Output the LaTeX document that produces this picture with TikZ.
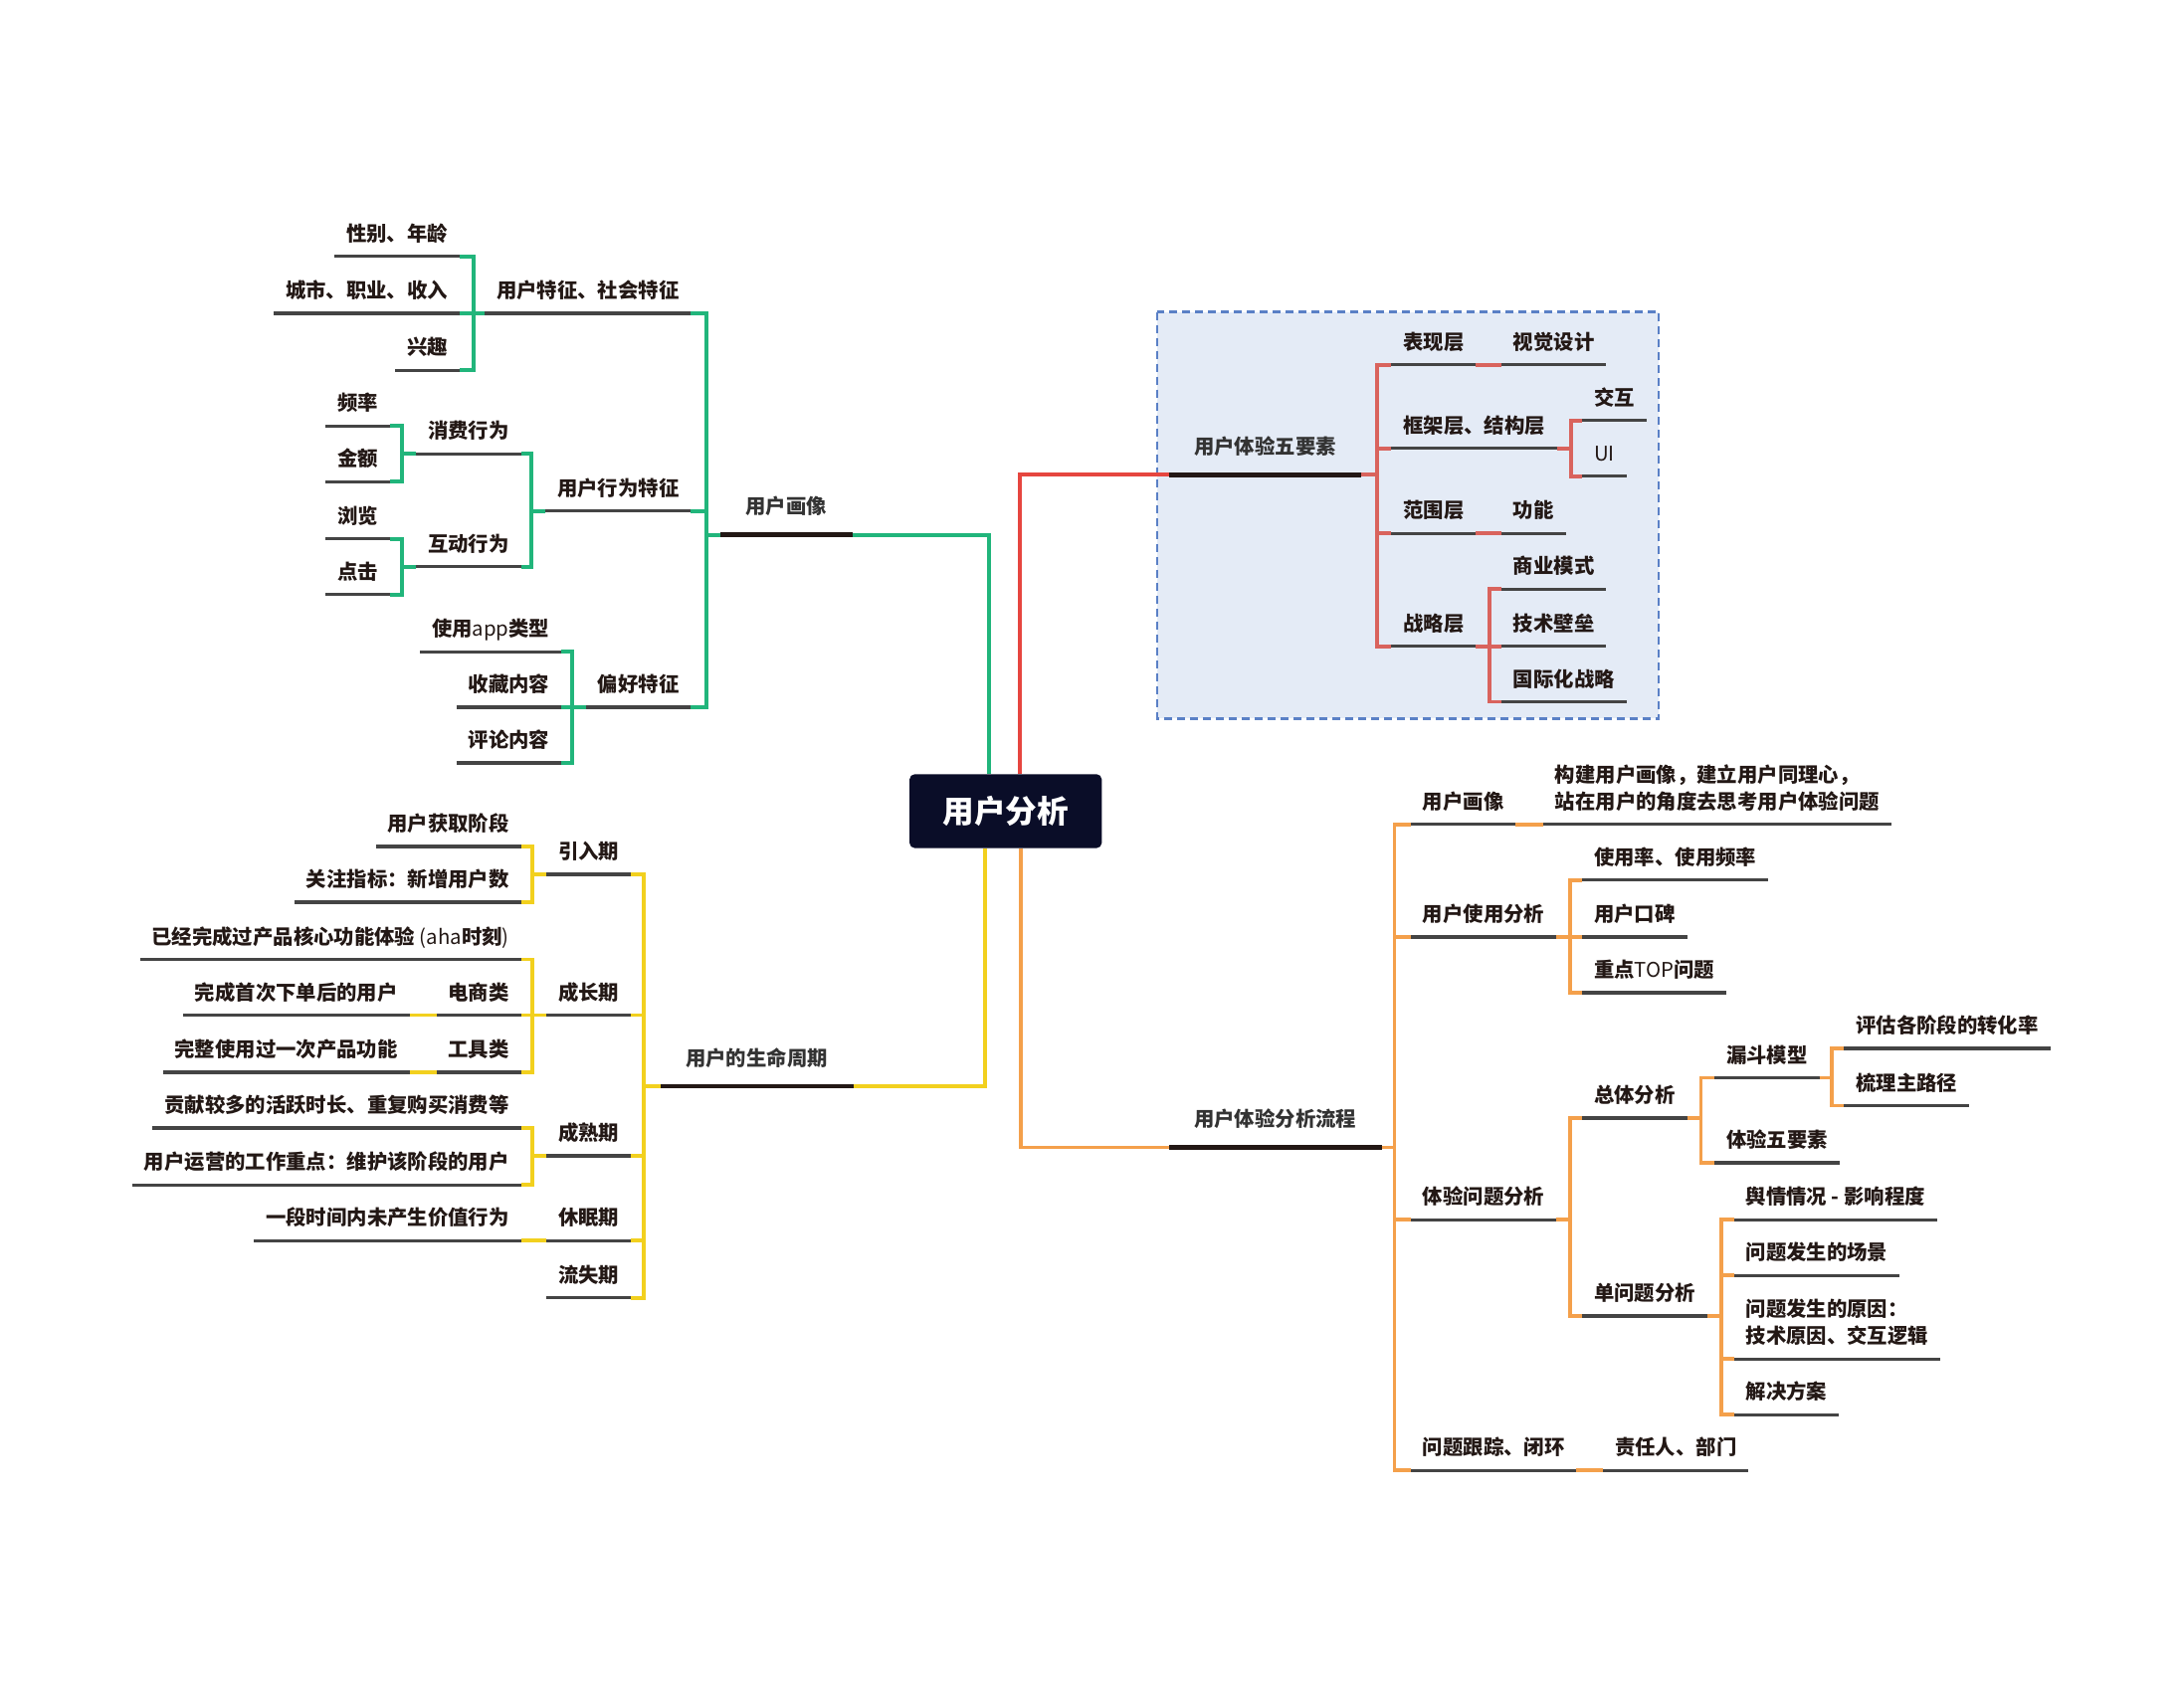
\documentclass[tikz,border=0pt]{standalone}
\usepackage{fontspec}
\setmainfont{Noto Sans CJK SC}
\usetikzlibrary{calc}
\definecolor{cG}{HTML}{21B57B}
\definecolor{cY}{HTML}{F2D01E}
\definecolor{cO}{HTML}{F4A04B}
\definecolor{cR}{HTML}{E6463F}
\definecolor{cRl}{HTML}{D9635D}
\definecolor{ulc}{HTML}{444444}
\definecolor{mlc}{HTML}{231815}
\definecolor{txt}{HTML}{231815}
\definecolor{mtxt}{HTML}{333333}
\definecolor{rootc}{HTML}{0A0D28}
\definecolor{boxfill}{HTML}{E4EBF6}
\definecolor{boxdraw}{HTML}{5A80C6}
\tikzset{
  topic/.style={inner xsep=0.112cm, inner ysep=0.147cm, text depth=0pt,
    font=\fontsize{5.8}{7.7}\selectfont\bfseries, text=txt},
  mtopic/.style={inner xsep=0.25cm, inner ysep=0.2cm, text depth=0pt,
    font=\fontsize{5.8}{7.7}\selectfont\bfseries, text=mtxt},
  uline/.style={line width=0.95pt, draw=ulc},
  mline/.style={line width=1.35pt, draw=mlc},
  con/.style={line width=1.1pt},
  conG/.style={con, draw=cG},
  conY/.style={con, draw=cY},
  conO/.style={con, draw=cO},
  conR/.style={con, draw=cR},
  conRl/.style={con, draw=cRl},
  rootbox/.style={fill=rootc, rounded corners=0.05cm, minimum width=1.932cm,
    minimum height=0.742cm, inner sep=0pt, text=white,
    font=\fontsize{9}{11}\selectfont\bfseries},
  dashbox/.style={fill=boxfill, draw=boxdraw, line width=0.65pt,
    dash pattern=on 0.08cm off 0.05cm}
}
\newcommand\nodeL[4]{\node[topic,anchor=south east] (#1) at (#2,#3) {#4};
  \draw[uline] (#1.south west) -- (#1.south east);}
\newcommand\nodeR[4]{\node[topic,anchor=south west] (#1) at (#2,#3) {#4};
  \draw[uline] (#1.south west) -- (#1.south east);}
\newcommand\nodeM[4]{\node[mtopic,anchor=south west] (#1) at (#2,#3) {#4};
  \draw[mline] (#1.south west) -- (#1.south east);}
\newcommand\lat[1]{{\mdseries #1}}
\begin{document}
\begin{tikzpicture}[x=0.014cm,y=-0.014cm]
\useasboundingbox (0,0) rectangle (1568,1214);
% dashed background box
\draw[dashbox] (831,224) rectangle (1191,516);

% root
\node[rootbox] (root) at (722,582.5) {用户分析};

% ===== green branch =====
\nodeM{g}{517}{384}{用户画像}
\nodeL{g1}{496}{225}{用户特征、社会特征}
\nodeL{g11}{330}{184}{性别、年龄}
\nodeL{g12}{330}{225}{城市、职业、收入}
\nodeL{g13}{330}{266}{兴趣}
\nodeL{g2}{496}{367}{用户行为特征}
\nodeL{g21}{374}{326}{消费行为}
\nodeL{g211}{280}{306}{频率}
\nodeL{g212}{280}{346}{金额}
\nodeL{g22}{374}{407}{互动行为}
\nodeL{g221}{280}{387}{浏览}
\nodeL{g222}{280}{427}{点击}
\nodeL{g3}{496}{508}{偏好特征}
\nodeL{g31}{403}{468}{使用\lat{app}类型}
\nodeL{g32}{403}{508}{收藏内容}
\nodeL{g33}{403}{548}{评论内容}
\draw[conG] (g.south east) -| ($(root.north)+(-12,0)$);
\foreach \c in {g1,g2,g3} \draw[conG] (g.south west) -- ++(-10,0) |- (\c.south east);
\foreach \c in {g11,g12,g13} \draw[conG] (g1.south west) -- ++(-8,0) |- (\c.south east);
\foreach \c in {g21,g22} \draw[conG] (g2.south west) -- ++(-10,0) |- (\c.south east);
\foreach \c in {g211,g212} \draw[conG] (g21.south west) -- ++(-10,0) |- (\c.south east);
\foreach \c in {g221,g222} \draw[conG] (g22.south west) -- ++(-10,0) |- (\c.south east);
\foreach \c in {g31,g32,g33} \draw[conG] (g3.south west) -- ++(-10,0) |- (\c.south east);

% ===== yellow branch =====
\nodeM{y}{474}{780}{用户的生命周期}
\nodeL{y1}{453}{628}{引入期}
\nodeL{y11}{374}{608}{用户获取阶段}
\nodeL{y12}{374}{648}{关注指标：新增用户数}
\nodeL{y2}{453}{729}{成长期}
\nodeL{y21}{374}{689}{已经完成过产品核心功能体验\lat{ (aha}时刻\lat{)}}
\nodeL{y22}{374}{729}{电商类}
\nodeL{y221}{294}{729}{完成首次下单后的用户}
\nodeL{y23}{374}{770}{工具类}
\nodeL{y231}{294}{770}{完整使用过一次产品功能}
\nodeL{y3}{453}{830}{成熟期}
\nodeL{y31}{374}{810}{贡献较多的活跃时长、重复购买消费等}
\nodeL{y32}{374}{851}{用户运营的工作重点：维护该阶段的用户}
\nodeL{y4}{453}{891}{休眠期}
\nodeL{y41}{374}{891}{一段时间内未产生价值行为}
\nodeL{y5}{453}{932}{流失期}
\draw[conY] (y.south east) -| ($(root.south)+(-15,0)$);
\foreach \c in {y1,y2,y3,y4,y5} \draw[conY] (y.south west) -- ++(-12,0) |- (\c.south east);
\foreach \c in {y11,y12} \draw[conY] (y1.south west) -- ++(-10,0) |- (\c.south east);
\foreach \c in {y21,y22,y23} \draw[conY] (y2.south west) -- ++(-10,0) |- (\c.south east);
\draw[conY] (y22.south west) -- (y221.south east);
\draw[conY] (y23.south west) -- (y231.south east);
\foreach \c in {y31,y32} \draw[conY] (y3.south west) -- ++(-10,0) |- (\c.south east);
\draw[conY] (y4.south west) -- (y41.south east);

% ===== red branch =====
\nodeM{r}{839}{341}{用户体验五要素}
\nodeR{r1}{999}{262}{表现层}
\nodeR{r11}{1078}{262}{视觉设计}
\nodeR{r2}{999}{322}{框架层、结构层}
\nodeR{r21}{1136}{302}{交互}
\nodeR{r22}{1136}{342}{\lat{UI}}
\nodeR{r3}{999}{383}{范围层}
\nodeR{r31}{1078}{383}{功能}
\nodeR{r4}{999}{464}{战略层}
\nodeR{r41}{1078}{423}{商业模式}
\nodeR{r42}{1078}{464}{技术壁垒}
\nodeR{r43}{1078}{504}{国际化战略}
\draw[conR] ($(root.north)+(10,0)$) |- (r.south west);
\foreach \c in {r1,r2,r3,r4} \draw[conRl] (r.south east) -- ++(11,0) |- (\c.south west);
\draw[conRl] (r1.south east) -- (r11.south west);
\foreach \c in {r21,r22} \draw[conRl] (r2.south east) -- ++(10,0) |- (\c.south west);
\draw[conRl] (r3.south east) -- (r31.south west);
\foreach \c in {r41,r42,r43} \draw[conRl] (r4.south east) -- ++(10,0) |- (\c.south west);

% ===== orange branch =====
\nodeM{o}{839}{824}{用户体验分析流程}
\nodeR{o1}{1013}{592}{用户画像}
\nodeR{o11}{1108}{592}{\begin{tabular}[b]{@{}l@{}}构建用户画像，建立用户同理心，\\站在用户的角度去思考用户体验问题\end{tabular}}
\nodeR{o2}{1013}{673}{用户使用分析}
\nodeR{o21}{1136}{632}{使用率、使用频率}
\nodeR{o22}{1136}{673}{用户口碑}
\nodeR{o23}{1136}{713}{重点\lat{TOP}问题}
\nodeR{o3}{1013}{876}{体验问题分析}
\nodeR{o31}{1136}{803}{总体分析}
\nodeR{o311}{1231}{774}{漏斗模型}
\nodeR{o3111}{1324}{753}{评估各阶段的转化率}
\nodeR{o3112}{1324}{794}{梳理主路径}
\nodeR{o312}{1231}{835}{体验五要素}
\nodeR{o32}{1136}{945}{单问题分析}
\nodeR{o321}{1245}{876}{舆情情况 - 影响程度}
\nodeR{o322}{1245}{916}{问题发生的场景}
\nodeR{o323}{1245}{976}{\begin{tabular}[b]{@{}l@{}}问题发生的原因：\\技术原因、交互逻辑\end{tabular}}
\nodeR{o324}{1245}{1016}{解决方案}
\nodeR{o4}{1013}{1056}{问题跟踪、闭环}
\nodeR{o41}{1151}{1056}{责任人、部门}
\draw[conO] ($(root.south)+(11,0)$) |- (o.south west);
\foreach \c in {o1,o2,o3,o4} \draw[conO] (o.south east) -- ++(9,0) |- (\c.south west);
\draw[conO] (o1.south east) -- (o11.south west);
\foreach \c in {o21,o22,o23} \draw[conO] (o2.south east) -- ++(10,0) |- (\c.south west);
\foreach \c in {o31,o32} \draw[conO] (o3.south east) -- ++(10,0) |- (\c.south west);
\foreach \c in {o311,o312} \draw[conO] (o31.south east) -- ++(10,0) |- (\c.south west);
\foreach \c in {o3111,o3112} \draw[conO] (o311.south east) -- ++(9,0) |- (\c.south west);
\foreach \c in {o321,o322,o323,o324} \draw[conO] (o32.south east) -- ++(10,0) |- (\c.south west);
\draw[conO] (o4.south east) -- (o41.south west);
\end{tikzpicture}
\end{document}
